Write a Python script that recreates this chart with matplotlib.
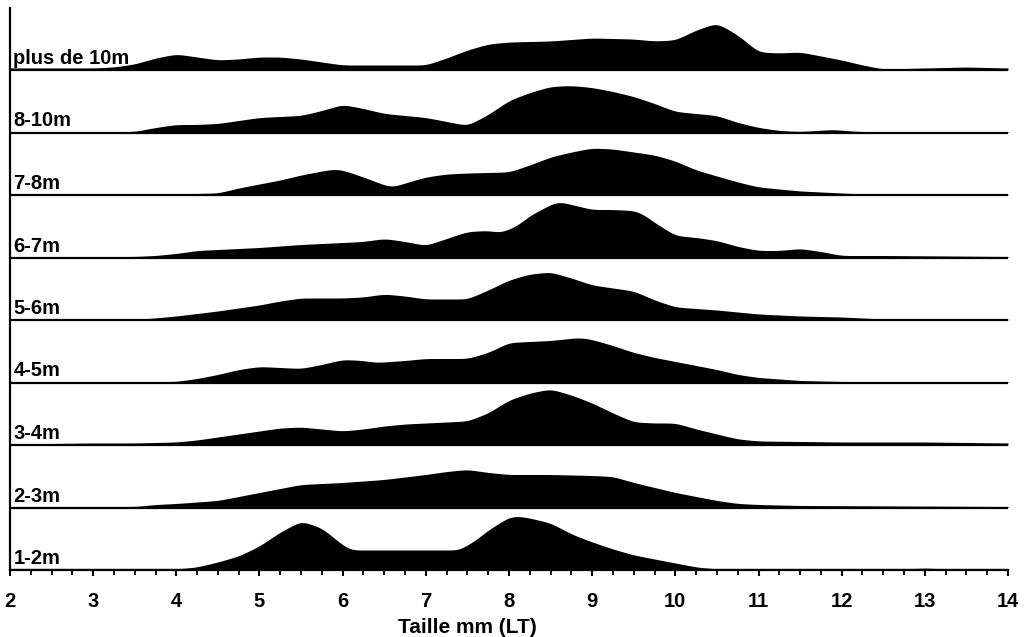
import matplotlib.pyplot as plt
import numpy as np

# size classes, top to bottom
labels = ["plus de 10m", "8-10m", "7-8m", "6-7m", "5-6m", "4-5m", "3-4m", "2-3m", "1-2m"]

# (taille mm, hauteur relative)
plus_10m = [(2.0, 2), (2.5, 2), (3.0, 2), (3.25, 3), (3.5, 6), (3.75, 12), (4.0, 16), (4.25, 13),
            (4.5, 10), (4.75, 11), (5.0, 13), (5.25, 13), (5.5, 11), (5.75, 8), (6.0, 5), (6.5, 5),
            (7.0, 5), (7.25, 12), (7.5, 20), (7.75, 26), (8.0, 28), (8.5, 29), (9.0, 32), (9.5, 31),
            (9.75, 29), (10.0, 30), (10.25, 40), (10.5, 47), (10.75, 35), (11.0, 18), (11.25, 17),
            (11.5, 18), (11.75, 14), (12.0, 10), (12.25, 5), (12.5, 1), (13.0, 2), (13.5, 3), (14.0, 2)]
m8_10 = [(2.0, 1), (3.5, 1), (3.75, 5), (4.0, 8), (4.25, 8), (4.5, 9), (4.75, 12), (5.0, 15),
         (5.5, 17), (5.75, 22), (6.0, 28), (6.25, 24), (6.5, 19), (6.75, 17), (7.0, 15), (7.25, 11),
         (7.5, 7), (7.75, 18), (8.0, 32), (8.25, 40), (8.5, 46), (8.75, 47), (9.0, 45), (9.25, 41),
         (9.5, 36), (9.75, 29), (10.0, 21), (10.25, 19), (10.5, 17), (10.75, 10), (11.0, 5),
         (11.25, 2), (11.5, 1), (11.9, 3), (12.2, 1), (14.0, 1)]
m7_8 = [(2.0, 1), (3.0, 1), (3.5, 1.5), (4.0, 1), (4.5, 2), (4.75, 7), (5.0, 11), (5.25, 15),
        (5.5, 20), (5.75, 24), (5.9, 26), (6.0, 25), (6.25, 18), (6.5, 10), (6.6, 8), (6.75, 12),
        (7.0, 18), (7.25, 21), (7.5, 22), (8.0, 23), (8.25, 30), (8.5, 38), (8.75, 43), (9.0, 47),
        (9.25, 46), (9.5, 43), (9.75, 40), (10.0, 34), (10.25, 25), (10.5, 19), (10.75, 13),
        (11.0, 8), (11.5, 4), (12.0, 2), (12.25, 1), (14.0, 1)]
m6_7 = [(2.0, 1), (3.5, 1), (3.75, 2), (4.0, 4), (4.25, 7), (4.5, 8), (5.0, 10), (5.5, 13),
        (6.0, 15), (6.25, 16), (6.5, 19), (6.75, 16), (7.0, 12), (7.25, 19), (7.5, 26), (7.75, 27),
        (7.9, 25), (8.1, 32), (8.25, 42), (8.5, 53), (8.6, 56), (8.75, 53), (9.0, 48), (9.25, 48),
        (9.5, 47), (9.6, 44), (9.75, 35), (10.0, 22), (10.25, 20), (10.5, 17), (10.75, 11),
        (11.0, 7), (11.25, 7), (11.5, 9), (11.75, 6), (12.0, 2), (12.5, 2), (14.0, 1)]
m5_6 = [(2.0, 1), (3.6, 1), (4.0, 4), (4.5, 9), (5.0, 15), (5.25, 19), (5.5, 22), (6.0, 22),
        (6.25, 23), (6.5, 26), (6.75, 24), (7.0, 21), (7.5, 21), (7.75, 30), (8.0, 40), (8.25, 46),
        (8.5, 48), (8.75, 42), (9.0, 35), (9.25, 32), (9.5, 29), (9.75, 20), (10.0, 13), (10.5, 10),
        (11.0, 6), (11.5, 4), (12.0, 3), (12.5, 1), (14.0, 1)]
m4_5 = [(2.0, 1), (4.0, 1), (4.25, 4), (4.5, 8), (4.75, 13), (5.0, 16), (5.25, 15), (5.5, 14),
        (5.75, 18), (6.0, 23), (6.25, 22), (6.4, 20), (6.75, 22), (7.0, 24), (7.5, 24), (7.75, 30),
        (8.0, 40), (8.5, 42), (8.85, 45), (9.0, 43), (9.25, 37), (9.5, 30), (9.75, 25), (10.0, 21),
        (10.25, 17), (10.5, 13), (10.75, 8), (11.0, 5), (11.5, 2), (12.0, 1), (14.0, 1)]
m3_4 = [(2.0, 1), (3.0, 2), (3.5, 2), (4.0, 3), (4.25, 5), (4.5, 8), (4.75, 11), (5.0, 14),
        (5.25, 17), (5.5, 18), (5.75, 16), (6.0, 14), (6.25, 16), (6.5, 19), (6.75, 21), (7.0, 22),
        (7.5, 24), (7.75, 32), (8.0, 45), (8.25, 52), (8.5, 56), (8.75, 50), (9.0, 42), (9.25, 32),
        (9.5, 23), (9.75, 22), (10.0, 22), (10.25, 16), (10.5, 11), (10.75, 6), (11.0, 4),
        (12.0, 3), (13.0, 3), (14.0, 2)]
m2_3 = [(2.0, 1), (3.5, 1), (3.75, 3), (4.0, 4), (4.5, 7), (4.75, 11), (5.0, 15), (5.25, 19),
        (5.5, 23), (6.0, 25), (6.5, 28), (7.0, 33), (7.25, 36), (7.5, 38), (7.75, 35), (8.0, 33),
        (8.5, 33), (9.0, 32), (9.25, 31), (9.5, 25), (9.75, 20), (10.0, 15), (10.25, 11),
        (10.5, 7), (10.75, 4), (11.0, 3), (11.5, 2), (14.0, 1)]
m1_2 = [(2.0, 1), (4.0, 1), (4.25, 3), (4.5, 8), (4.75, 14), (5.0, 24), (5.25, 38), (5.5, 49),
        (5.75, 42), (6.0, 25), (6.1, 20), (6.5, 20), (7.0, 20), (7.4, 20), (7.6, 30), (7.75, 40),
        (8.0, 53), (8.1, 54), (8.25, 52), (8.5, 47), (8.75, 36), (9.0, 28), (9.25, 21), (9.5, 15),
        (9.75, 11), (10.0, 7), (10.25, 3), (10.5, 1), (12.75, 1), (13.0, 2), (13.25, 1), (14.0, 1)]

profiles = [plus_10m, m8_10, m7_8, m6_7, m5_6, m4_5, m3_4, m2_3, m1_2]

step = 62.5  # ecart entre lignes de base

fig = plt.figure(figsize=(10.26, 6.37), dpi=100)
ax = fig.add_axes([10 / 1026, 67 / 637, 998 / 1026, 562 / 637])

xd = np.linspace(2, 14, 1201)
kern = np.exp(-0.5 * (np.arange(-15, 16) / 6.0) ** 2)
kern /= kern.sum()

for i, (lab, prof) in enumerate(zip(labels, profiles)):
    base = (len(labels) - 1 - i) * step
    px = np.array([p[0] for p in prof])
    ph = np.array([p[1] for p in prof], dtype=float)
    h = np.interp(xd, px, ph)
    h = np.convolve(np.pad(h, 15, mode="edge"), kern, mode="valid")
    ax.fill_between(xd, base, base + h, color="black", lw=0)
    ax.plot([2, 14], [base, base], color="black", lw=1.6, solid_capstyle="butt")
    ax.text(2.04, base + 6, lab, fontsize=14.5, fontweight="bold",
            family="Liberation Sans", va="baseline", ha="left")

ax.set_xlim(2, 14)
ax.set_ylim(0, 562)
ax.set_xticks(np.arange(2, 15, 1))
ax.set_xticks(np.arange(2, 14.01, 0.25), minor=True)
ax.set_yticks([])
for lbl in ax.get_xticklabels():
    lbl.set_fontweight("bold")
    lbl.set_family("Liberation Sans")
    lbl.set_fontsize(14.5)
ax.tick_params(axis="x", which="major", direction="out", length=4, width=1.5, pad=12)
ax.tick_params(axis="x", which="minor", direction="out", length=3.5, width=1.3)
ax.spines["top"].set_visible(False)
ax.spines["right"].set_visible(False)
ax.spines["left"].set_linewidth(1.6)
ax.spines["bottom"].set_linewidth(1.6)

fig.text(467 / 1026, 4 / 637, "Taille mm (LT)", fontsize=15, fontweight="bold",
         family="Liberation Sans", ha="center", va="baseline")

fig.savefig("out.png", dpi=100)
